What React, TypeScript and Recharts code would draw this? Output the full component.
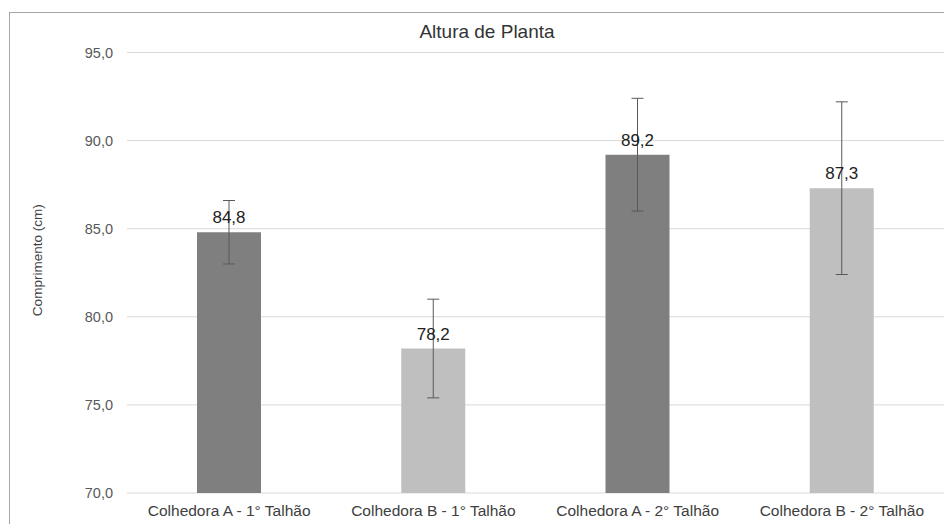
import React from 'react';
import {
  BarChart,
  Bar,
  Cell,
  XAxis,
  YAxis,
  CartesianGrid,
  ErrorBar,
  LabelList,
} from 'recharts';

// valores
const categories = [
  'Colhedora A - 1° Talhão',
  'Colhedora B - 1° Talhão',
  'Colhedora A - 2° Talhão',
  'Colhedora B - 2° Talhão',
];
const means = [84.8, 78.2, 89.2, 87.3];
const errors = [1.8, 2.8, 3.2, 4.9];
const yTicks = [70, 75, 80, 85, 90, 95];

const barColors = ['#7f7f7f', '#bfbfbf', '#7f7f7f', '#bfbfbf'];
const FONT = '"Liberation Sans", Arial, sans-serif';

const data = categories.map((name, i) => ({ name, mean: means[i], err: errors[i] }));

const fmt = (v: number) => Number(v).toFixed(1).replace('.', ',');

const renderYLabel = (props: any) => {
  const vb = props.viewBox || { x: 0, y: 40, width: 117, height: 440 };
  const cx = vb.x + 27.5;
  const cy = vb.y + vb.height / 2 - 12.5;
  return (
    <text
      x={cx}
      y={cy}
      transform={`rotate(-90 ${cx} ${cy})`}
      textAnchor="middle"
      dominantBaseline="central"
      fill="#404040"
      fontSize={13.5}
      fontFamily={FONT}
    >
      Comprimento (cm)
    </text>
  );
};

const App: React.FC = () => {
  return (
    <div
      style={{
        position: 'absolute',
        left: 9,
        top: 12,
        width: 934,
        height: 511,
        overflow: 'hidden',
        borderLeft: '1px solid #a6a6a6',
        borderTop: '1px solid #a6a6a6',
        background: '#fff',
        fontFamily: FONT,
      }}
    >
      <div
        style={{
          position: 'absolute',
          left: 277,
          width: 400,
          top: 8.6,
          textAlign: 'center',
          fontSize: 19,
          lineHeight: '19px',
          color: '#333',
        }}
      >
        Altura de Planta
      </div>
      <BarChart
        width={934}
        height={511}
        data={data}
        margin={{ top: 39.5, right: 0, bottom: 0, left: 0 }}
      >
        <CartesianGrid vertical={false} stroke="#d9d9d9" />
        <XAxis
          dataKey="name"
          height={31}
          axisLine={false}
          tickLine={false}
          tickSize={0}
          tickMargin={12}
          interval={0}
          tick={{ fill: '#404040', fontSize: 15.5, fontFamily: FONT }}
        />
        <YAxis
          width={117}
          domain={[70, 95]}
          ticks={yTicks}
          axisLine={false}
          tickLine={false}
          tickSize={0}
          tickMargin={14}
          tickFormatter={fmt}
          tick={{ fill: '#595959', fontSize: 14.5, fontFamily: FONT }}
          label={renderYLabel}
        />
        <Bar dataKey="mean" barSize={64} isAnimationActive={false}>
          {data.map((d, i) => (
            <Cell key={d.name} fill={barColors[i]} />
          ))}
          <LabelList
            dataKey="mean"
            position="top"
            offset={9}
            formatter={(v: any) => fmt(v)}
            fill="#222"
            fontSize={17}
            fontFamily={FONT}
          />
          <ErrorBar dataKey="err" width={6} stroke="#595959" strokeWidth={1} />
        </Bar>
      </BarChart>
    </div>
  );
};

export default App;
